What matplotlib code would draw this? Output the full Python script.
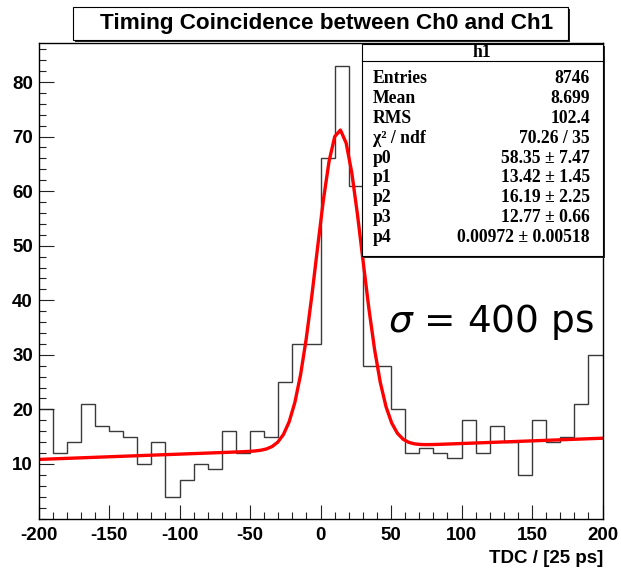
import numpy as np
import matplotlib.pyplot as plt
from matplotlib.patches import Rectangle

plt.rcParams["axes.unicode_minus"] = False

# histogram contents, 10-unit bins from -200 to 200
bin_edges = np.arange(-200, 201, 10)
counts = [20, 12, 14, 21, 17, 16, 15, 10, 14, 4,
          7, 10, 9, 16, 12, 16, 15, 25, 32, 32,
          66, 83, 61, 28, 28, 20, 12, 13, 12, 11,
          18, 12, 17, 14, 8, 18, 14, 15, 21, 30]

# fit parameters: gaus + pol1
p0, p1, p2, p3, p4 = 58.35, 13.42, 16.19, 12.77, 0.00972

stat_labels = ["Entries", "Mean", "RMS", "\u03c7\u00b2 / ndf", "p0", "p1", "p2", "p3", "p4"]
stat_values = ["8746", "8.699", "102.4", "70.26 / 35",
               "58.35 \u00b1 7.47", "13.42 \u00b1 1.45", "16.19 \u00b1 2.25",
               "12.77 \u00b1 0.66", "0.00972 \u00b1 0.00518"]

W, H = 621, 572
fig = plt.figure(figsize=(W / 100, H / 100), dpi=100)


def fx(x):
    return x / W


def fy(y):
    return 1 - y / H


ax = fig.add_axes([fx(38.5), fy(518.5), fx(602.5) - fx(38.5), fy(43) - fy(518.5)])

ax.stairs(counts, bin_edges, baseline=None, color="#3a3a3a", lw=1.0)

xf = np.linspace(-200, 200, 100)
yf = p0 * np.exp(-0.5 * ((xf - p1) / p2) ** 2) + p3 + p4 * xf
ax.plot(xf, yf, color="red", lw=2.4)

ax.set_xlim(-200, 200)
ax.set_ylim(0, 87.15)
ax.set_xticks(np.arange(-200, 201, 50))
ax.set_xticks(np.arange(-200, 201, 10), minor=True)
ax.set_yticks(np.arange(10, 81, 10))
ax.set_yticks(np.arange(0, 87, 2), minor=True)
ax.tick_params(which="both", direction="in", top=False, right=False, width=0.8, color="#222222")
ax.tick_params(axis="x", which="major", length=10, pad=6)
ax.tick_params(axis="x", which="minor", length=5)
ax.tick_params(axis="y", which="major", length=11, pad=4)
ax.tick_params(axis="y", which="minor", length=5)
for lab in ax.get_xticklabels() + ax.get_yticklabels():
    lab.set_fontfamily("Liberation Sans")
    lab.set_fontweight("bold")
    lab.set_fontsize(13.5)
for s in ax.spines.values():
    s.set_linewidth(1.0)

fig.text(fx(388), fy(332), r"$\sigma$ = 400 ps", ha="left", va="baseline", fontsize=27)

fig.text(fx(603), fy(563), "TDC / [25 ps]", ha="right", va="baseline",
         family="Liberation Sans", weight="bold", fontsize=13.5)

# title pave with shadow
fig.patches.append(Rectangle((fx(75), fy(42)), fx(568) - fx(73), fy(7) - fy(40),
                             transform=fig.transFigure, facecolor="#222222", edgecolor="none", zorder=5))
fig.patches.append(Rectangle((fx(73), fy(40)), fx(568) - fx(73), fy(7) - fy(40),
                             transform=fig.transFigure, facecolor="white", edgecolor="black", lw=0.8, zorder=6))
fig.text(fx(326.5), fy(23.5), "Timing Coincidence between Ch0 and Ch1", ha="center", va="center",
         family="Liberation Sans", weight="bold", fontsize=16.2, zorder=7)

# stats box with shadow
fig.patches.append(Rectangle((fx(363.5), fy(258)), fx(603) - fx(361.5), fy(44) - fy(256),
                             transform=fig.transFigure, facecolor="#222222", edgecolor="none", zorder=5))
fig.patches.append(Rectangle((fx(361.5), fy(256)), fx(603) - fx(361.5), fy(44) - fy(256),
                             transform=fig.transFigure, facecolor="white", edgecolor="black", lw=0.8, zorder=6))
fig.lines.append(plt.Line2D([fx(361.5), fx(603)], [fy(61), fy(61)], transform=fig.transFigure,
                            color="black", lw=0.8, zorder=7))
fig.text(fx(482), fy(57), "h1", ha="center", va="baseline",
         family="Liberation Serif", weight="bold", fontsize=12.7, zorder=7)
for i, (lab, val) in enumerate(zip(stat_labels, stat_values)):
    yb = 83 + i * 19.9
    fig.text(fx(373), fy(yb), lab, ha="left", va="baseline",
             family="Liberation Serif", weight="bold", fontsize=12.7, zorder=7)
    fig.text(fx(590), fy(yb), val, ha="right", va="baseline",
             family="Liberation Serif", weight="bold", fontsize=12.7, zorder=7)

fig.savefig("out.png", dpi=100)
